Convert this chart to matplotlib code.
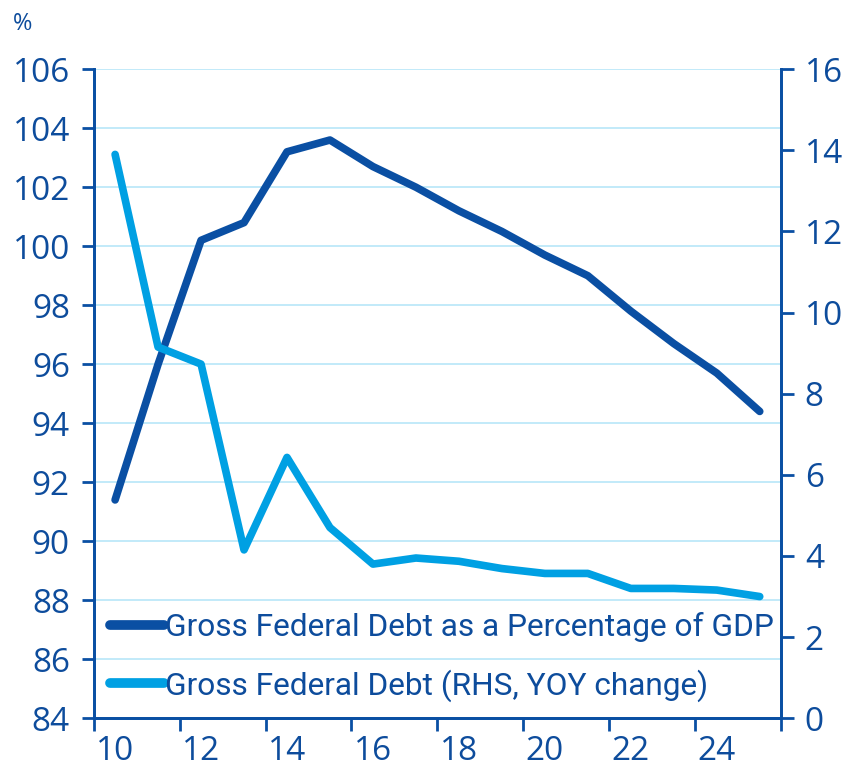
import matplotlib.pyplot as plt
from matplotlib.ticker import FixedLocator, NullFormatter

# data (years 2010-2025)
years = list(range(10, 26))
debt_gdp = [91.4, 96.0, 100.2, 100.8, 103.2, 103.6, 102.7, 102.0,
            101.2, 100.5, 99.7, 99.0, 97.8, 96.7, 95.7, 94.4]
debt_yoy = [13.9, 9.15, 8.73, 4.15, 6.43, 4.7, 3.8, 3.95,
            3.87, 3.69, 3.57, 3.57, 3.2, 3.2, 3.16, 3.0]
xtick_labels = ['10', '12', '14', '16', '18', '20', '22', '24']

dark = '#0a4fa3'
light = '#00a0e3'
grid_c = '#b8e6f8'
txt = '#0d4c9c'

plt.rcParams['font.family'] = ['Open Sans', 'DejaVu Sans']

fig = plt.figure(figsize=(8.51, 7.69), dpi=100)
ax = fig.add_axes([0.110, 0.066, 0.808, 0.844])
ax2 = ax.twinx()

x = list(range(len(years)))
l1, = ax.plot(x, debt_gdp, color=dark, lw=5.5, solid_capstyle='round', zorder=3,
              label='Gross Federal Debt as a Percentage of GDP')
l2, = ax2.plot(x, debt_yoy, color=light, lw=5.5, solid_capstyle='round', zorder=3,
               label='Gross Federal Debt (RHS, YOY change)')

ax.set_xlim(-0.5, len(years) - 0.5)
ax.set_ylim(84, 106)
ax2.set_ylim(0, 16)
ax.set_yticks(range(84, 107, 2))
ax2.set_yticks(range(0, 17, 2))

# x: ticks at category boundaries, labels on every other category
ax.xaxis.set_major_locator(FixedLocator([i - 0.5 for i in range(0, 17, 2)]))
ax.xaxis.set_major_formatter(NullFormatter())
ax.set_xticks(list(range(0, 16, 2)), xtick_labels, minor=True)
ax.tick_params(axis='x', which='minor', length=0, pad=12, labelsize=24, labelcolor=txt)
ax.tick_params(axis='x', which='major', length=9, width=2, color=dark, direction='out')

for a in (ax, ax2):
    a.tick_params(axis='y', length=9, width=2, color=dark, direction='out', labelsize=24,
                  labelcolor=txt, pad=8)
    a.spines['top'].set_visible(False)
    for s in ('left', 'right', 'bottom'):
        a.spines[s].set_color(dark)
        a.spines[s].set_linewidth(2)

ax.grid(axis='y', color=grid_c, lw=1.2, zorder=0)
ax.set_axisbelow(True)

ax.text(-0.117, 1.06, '%', transform=ax.transAxes, fontsize=17, color=txt)

leg = ax.legend(handles=[l1, l2], loc='lower left', bbox_to_anchor=(0.0, 0.0),
                frameon=False, handlelength=1.7, handletextpad=0.02, labelspacing=0.85,
                prop={'family': ['Roboto', 'DejaVu Sans'], 'size': 22.8},
                borderaxespad=0.12)
for t in leg.get_texts():
    t.set_color(txt)
for h in leg.get_lines():
    h.set_linewidth(7)
leg.set_zorder(5)

fig.savefig('out.png', dpi=100)
